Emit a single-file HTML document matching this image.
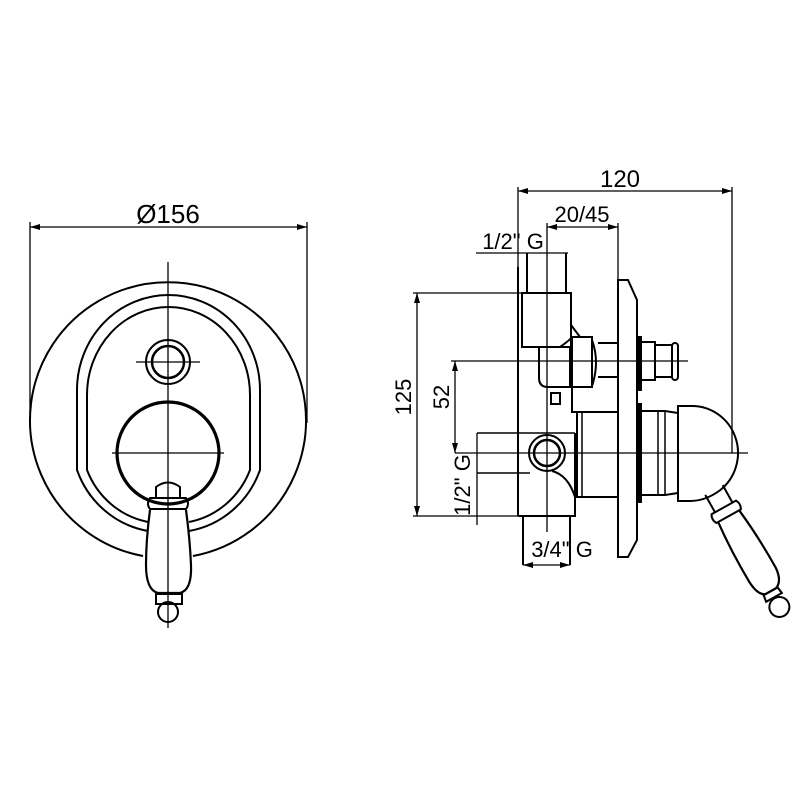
<!DOCTYPE html>
<html><head><style>
html,body{margin:0;padding:0;background:#fff;}
svg{display:block;}
text{font-family:"Liberation Sans",sans-serif;fill:#000;}
</style></head><body>
<svg width="800" height="800" viewBox="0 0 800 800" xmlns="http://www.w3.org/2000/svg">
<defs>
<marker id="a" markerWidth="10" markerHeight="6" refX="10" refY="3" orient="auto-start-reverse" markerUnits="userSpaceOnUse"><path d="M0,0 L10,3 L0,6 z" fill="#000"/></marker>
</defs>
<g fill="none" stroke="#000" stroke-width="2">
<!-- LEFT VIEW -->
<line x1="30" y1="227" x2="307" y2="227" stroke-width="1.3" marker-start="url(#a)" marker-end="url(#a)"/>
<line x1="30" y1="222" x2="30" y2="423" stroke-width="1.3"/>
<line x1="307" y1="222" x2="307" y2="423" stroke-width="1.3"/>
<path d="M143,556 A138,138 0 1 1 193,556"/>
<path d="M148,531 A92,95 0 0 1 77,470 L77,390 A91.5,95 0 0 1 260,390 L260,470 A92,95 0 0 1 189,531" />
<path d="M148,522 A82,85 0 0 1 87,470 L87,395 A81.5,88 0 0 1 250,395 L250,470 A82,85 0 0 1 189,522"/>
<circle cx="168" cy="362" r="22"/>
<circle cx="168" cy="362" r="16" stroke-width="2.5"/>
<circle cx="168" cy="453" r="51" stroke-width="3.2"/>
<line x1="168" y1="262" x2="168" y2="628" stroke-width="1.3"/>
<line x1="136" y1="362" x2="200" y2="362" stroke-width="1.3"/>
<line x1="112" y1="453" x2="224" y2="453" stroke-width="1.3"/>
<path d="M156,497 L156,487 Q168,478 180,487 L180,497"/>
<path d="M150,498 L186,498 Q190,504 186,509 L150,509 Q146,504 150,498 Z"/>
<path d="M150,510 Q146,540 146,565 Q146,590 158,593 L180,593 Q192,590 191,565 Q190,540 186,510" stroke-width="2.2"/>
<path d="M156,594 L182,594 L182,604 L156,604 Z"/>
<circle cx="168" cy="612" r="10"/>
<!-- RIGHT VIEW dims -->
<line x1="518" y1="191" x2="732" y2="191" stroke-width="1.3" marker-start="url(#a)" marker-end="url(#a)"/>
<line x1="518" y1="187" x2="518" y2="267" stroke-width="1.3"/>
<line x1="732" y1="187" x2="732" y2="453" stroke-width="1.3"/>
<line x1="547" y1="227" x2="618" y2="227" stroke-width="1.3" marker-start="url(#a)" marker-end="url(#a)"/>
<line x1="618" y1="223" x2="618" y2="280" stroke-width="1.3"/>
<line x1="547" y1="223" x2="547" y2="532" stroke-width="1.3"/>
<line x1="476" y1="253" x2="568" y2="253" stroke-width="1.3"/>
<line x1="527" y1="253" x2="527" y2="293"/>
<line x1="566" y1="253" x2="566" y2="293"/>
<line x1="417" y1="293" x2="417" y2="516" stroke-width="1.3" marker-start="url(#a)" marker-end="url(#a)"/>
<line x1="413" y1="293" x2="571" y2="293" stroke-width="1.3"/>
<line x1="413" y1="516" x2="518" y2="516" stroke-width="1.3"/>
<line x1="455" y1="361" x2="455" y2="453" stroke-width="1.3" marker-start="url(#a)" marker-end="url(#a)"/>
<line x1="451" y1="361" x2="688" y2="361" stroke-width="1.3"/>
<line x1="455" y1="453" x2="748" y2="453" stroke-width="1.3"/>
<line x1="477" y1="433" x2="575" y2="433" stroke-width="1.5"/>
<line x1="477" y1="473" x2="530" y2="473" stroke-width="1.5"/>
<line x1="477" y1="433" x2="477" y2="525" stroke-width="1.3"/>
<line x1="518" y1="267" x2="518" y2="516"/>
<!-- upper block -->
<path d="M522,293 L571,293 L571,347 L522,347 Z"/>
<path d="M571,325 L580,337"/>
<path d="M560,347 Q570,340 572,337"/>
<path d="M539,347 L539,378 Q539,387 548,387 L572,387"/>
<path d="M570,347 L570,387"/>
<path d="M572,337 L592,337 L592,387 L572,387 Z"/>
<path d="M592,340 Q600,362 592,386"/>
<path d="M598,343 L618,343 M598,377 L618,377"/>
<path d="M572,387 L572,412 L618,412"/>
<rect x="551" y="393" width="9" height="11"/>
<!-- plate -->
<path d="M618,280 L628,280 L637,300 L637,540 L628,557 L618,557 Z"/>
<rect x="637" y="337" width="4" height="53" fill="#000"/>
<rect x="637" y="404" width="4" height="98" fill="#000"/>
<path d="M641,342 L655,342 L655,380 L641,380"/>
<path d="M655,345 L672,345 L672,377 L655,377"/>
<rect x="672" y="343" width="6" height="37" rx="3"/>
<!-- lower housing -->
<path d="M577,412 L577,497 L618,497"/>
<line x1="582" y1="412" x2="582" y2="497" stroke-width="1.5"/>
<path d="M641,411 L665,411 L678,413 M641,495 L665,495 L678,493"/>
<line x1="658" y1="411" x2="658" y2="495" stroke-width="1.5"/>
<line x1="665" y1="411" x2="665" y2="495" stroke-width="1.5"/>
<path d="M678,406 L690,406 A46,47 0 0 1 719,491 Q705,501 690,501 L678,501 Z"/>
<!-- lever -->
<g transform="translate(714,490) rotate(-29.2)">
<path d="M-10,0 L-10,20 M10,0 L10,20"/>
<path d="M-14,20 L14,20 Q17,25 14,30 L-14,30 Q-17,25 -14,20 Z"/>
<path d="M-12,30 Q-15,62 -14,98 Q-13,113 -6,116 L6,116 Q15,113 16,98 Q16,62 12,30" stroke-width="2.2"/>
<path d="M-8,116 L8,116 L9,123 L-9,123 Z"/>
<circle cx="0" cy="134" r="10"/>
</g>
<!-- port -->
<path d="M575,433 L575,497 Q568,475 552,471"/>
<circle cx="547" cy="453" r="18"/>
<circle cx="547" cy="453" r="13" stroke-width="2.5"/>
<path d="M518,516 L575,516 L575,497"/>
<path d="M523,516 L523,565 M570,516 L570,565"/>
<line x1="523" y1="565" x2="570" y2="565" stroke-width="1.3" marker-start="url(#a)" marker-end="url(#a)"/>
</g>
<text x="168" y="223" font-size="26" text-anchor="middle">Ø156</text>
<text x="620" y="187" font-size="24" text-anchor="middle">120</text>
<text x="582" y="222" font-size="22" text-anchor="middle">20/45</text>
<text x="513" y="249" font-size="22" text-anchor="middle">1/2" G</text>
<text x="562" y="557" font-size="22" text-anchor="middle">3/4" G</text>
<text transform="translate(411,397) rotate(-90)" font-size="22" text-anchor="middle">125</text>
<text transform="translate(449,397) rotate(-90)" font-size="22" text-anchor="middle">52</text>
<text transform="translate(470,485) rotate(-90)" font-size="22" text-anchor="middle">1/2" G</text>
</svg>
</body></html>
